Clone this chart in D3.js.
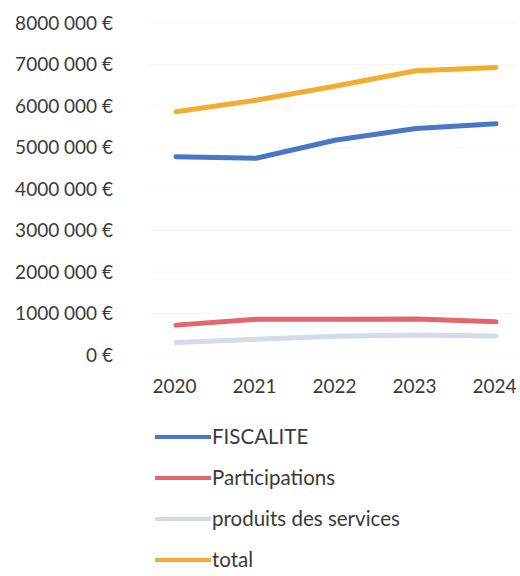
<!DOCTYPE html>
<html>
<head>
<meta charset="utf-8">
<script src="https://cdn.jsdelivr.net/npm/d3@7"></script>
<style>
  html, body { margin: 0; padding: 0; background: #ffffff; }
  svg { display: block; }
  text { font-family: Lato, "Open Sans", sans-serif; fill: #3a3a3a; }
</style>
</head>
<body>
<svg id="chart" width="520" height="576"></svg>
<script>
// Budget revenue lines, 2020–2024
const years = ["2020", "2021", "2022", "2023", "2024"];
const fiscalite = [4780000, 4740000, 5180000, 5460000, 5570000];
const participations = [720000, 860000, 860000, 870000, 800000];
const produitsServices = [300000, 380000, 450000, 480000, 460000];
const total = [5860000, 6140000, 6480000, 6850000, 6930000];
const yTicks = [0, 1000000, 2000000, 3000000, 4000000, 5000000, 6000000, 7000000, 8000000];

const series = [
  { name: "FISCALITE", values: fiscalite, color: "#4a76c6" },
  { name: "Participations", values: participations, color: "#e2666b" },
  { name: "produits des services", values: produitsServices, color: "#d6d9e8" },
  { name: "total", values: total, color: "#f3ad2e" }
];

const svg = d3.select("#chart");

const x = d3.scalePoint().domain(years).range([176, 496]);
const y = d3.scaleLinear().domain([0, 8000000]).range([355, 23]);

// "8000 000 €" style: thousands grouped by spaces, first group kept whole
const fmtEuro = v => {
  if (v === 0) return "0 €";
  const s = String(v);
  return s.slice(0, s.length - 3) + " " + s.slice(-3) + " €";
};

// faint horizontal gridlines
svg.append("g")
  .selectAll("line")
  .data(yTicks)
  .join("line")
  .attr("x1", 150).attr("x2", 515)
  .attr("y1", d => y(d)).attr("y2", d => y(d))
  .attr("stroke", "#f6f6f6").attr("stroke-width", 1);

// y axis labels
const yAxis = d3.axisLeft(y).tickValues(yTicks).tickFormat(fmtEuro).tickSize(0).tickPadding(0);
const gy = svg.append("g").attr("transform", "translate(113,0)").call(yAxis);
gy.select(".domain").remove();
gy.selectAll("text").style("font-size", "19px").style("font-family", "Lato, 'Open Sans', sans-serif").attr("fill", "#3a3a3a");

// x axis labels
const xAxis = d3.axisBottom(x).tickSize(0).tickPadding(0);
const gx = svg.append("g").attr("transform", "translate(-2,379)").call(xAxis);
gx.select(".domain").remove();
gx.selectAll("text").style("font-size", "19px").style("font-family", "Lato, 'Open Sans', sans-serif").attr("fill", "#3a3a3a");

// series lines
const line = d3.line()
  .x((d, i) => x(years[i]))
  .y(d => y(d));

svg.append("g")
  .selectAll("path")
  .data(series)
  .join("path")
  .attr("d", s => line(s.values))
  .attr("fill", "none")
  .attr("stroke", s => s.color)
  .attr("stroke-width", 5)
  .attr("stroke-linejoin", "round")
  .attr("stroke-linecap", "round");

// legend
const legend = svg.append("g")
  .selectAll("g")
  .data(series)
  .join("g")
  .attr("transform", (d, i) => `translate(155,${437 + i * 41})`);

legend.append("line")
  .attr("x1", 0).attr("x2", 56)
  .attr("y1", 0).attr("y2", 0)
  .attr("stroke", d => d.color)
  .attr("stroke-width", 4);

legend.append("text")
  .attr("x", 57)
  .attr("y", 0)
  .attr("dy", "0.35em")
  .style("font-size", "20.5px")
  .text(d => d.name);
</script>
</body>
</html>
